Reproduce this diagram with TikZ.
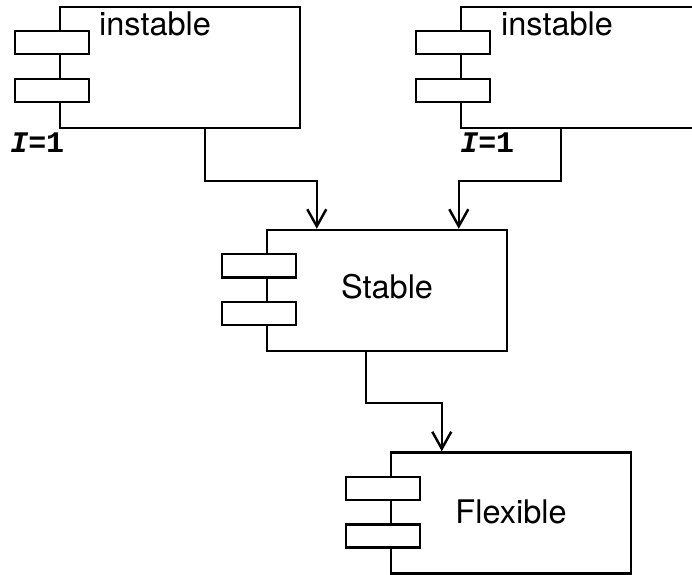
\documentclass[tikz,border=0pt]{standalone}
\usepackage{fontspec}
\setmainfont{TeX Gyre Heros}
\newfontfamily\cardfont{Liberation Mono}
\usetikzlibrary{arrows.meta,positioning,calc}
\tikzset{
  comp/.style={draw, line width=1.4pt, minimum width=4.8cm, minimum height=2.42cm, inner sep=0pt},
  tab/.style={draw, line width=1.4pt, fill=white, minimum width=1.48cm, minimum height=0.46cm, inner sep=0pt},
  cname/.style={font=\fontsize{18.5}{21}\selectfont, inner sep=0pt},
  card/.style={font=\cardfont\bfseries\fontsize{17}{19}\selectfont, inner sep=0pt},
  dep/.style={-{Straight Barb[length=3.4mm, width=3.8mm]}, line width=1.4pt},
}
\begin{document}
\begin{tikzpicture}
  \useasboundingbox (0,0) rectangle (13.84,-11.5);
  \clip (0,0) rectangle (13.84,-11.5);
  % components
  \node[comp] (instA) at (3.6,-1.35) {};
  \node[comp] (instB) at (11.62,-1.35) {};
  \node[comp] (stable) at (7.74,-5.81) {};
  \node[comp] (flex) at (10.22,-10.26) {};
  \foreach \c in {instA,instB,stable,flex} {
    \node[tab] (\c-t1) at ($(\c.north west)+(-0.14,-0.74)$) {};
    \node[tab] (\c-t2) at ($(\c.north west)+(-0.14,-1.69)$) {};
  }
  % names
  \node[cname, anchor=base west] (lblA) at ($(instA.north west)+(0.8,-0.6)$) {instable};
  \node[cname, anchor=base west] (lblB) at ($(instB.north west)+(0.82,-0.6)$) {instable};
  \node[cname, anchor=base] (lblS) at ($(stable.center)+(0,-0.15)$) {Stable};
  \node[cname, anchor=base] (lblF) at ($(flex.center)+(0,-0.2)$) {Flexible};
  \node[card, anchor=base west] (cardA) at (0.2,-3.06) {{\itshape I}=1};
  \node[card, anchor=base west] (cardB) at (9.2,-3.06) {{\itshape I}=1};
  % dependencies
  \coordinate (outA) at ($(instA.south)+(0.5,0)$);
  \coordinate (outB) at ($(instB.south)+(-0.4,0)$);
  \coordinate (outS) at ($(stable.south)+(-0.42,0)$);
  \coordinate (inA) at ($(stable.north west)+(1.02,0)$);
  \coordinate (inB) at ($(stable.north west)+(3.86,0)$);
  \coordinate (inF) at ($(flex.north west)+(1.04,0)$);
  \draw[dep] (outA) -- ++(0,-1.04) -| (inA);
  \draw[dep] (outB) -- ++(0,-1.04) -| (inB);
  \draw[dep] (outS) -- ++(0,-1.02) -| (inF);
\end{tikzpicture}
\end{document}
